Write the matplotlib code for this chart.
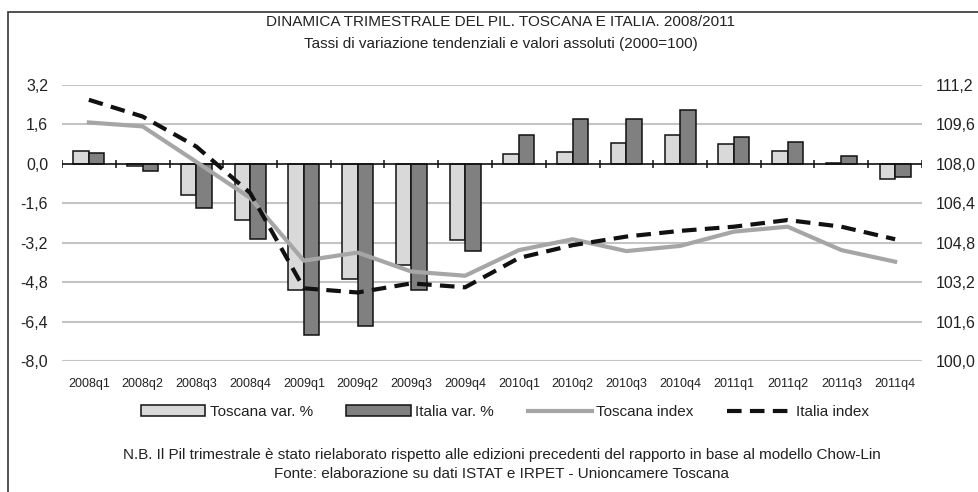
import numpy as np
import matplotlib.pyplot as plt
from matplotlib.patches import Rectangle, Patch
from matplotlib.lines import Line2D

plt.rcParams['font.family'] = ['Liberation Sans', 'DejaVu Sans']

quarters = ["2008q1", "2008q2", "2008q3", "2008q4", "2009q1", "2009q2", "2009q3", "2009q4",
            "2010q1", "2010q2", "2010q3", "2010q4", "2011q1", "2011q2", "2011q3", "2011q4"]
toscana_var = [0.53, -0.10, -1.26, -2.28, -5.12, -4.69, -4.10, -3.09,
               0.41, 0.49, 0.84, 1.17, 0.79, 0.54, 0.03, -0.61]
italia_var = [0.43, -0.27, -1.78, -3.05, -6.96, -6.56, -5.12, -3.54,
              1.17, 1.84, 1.84, 2.20, 1.11, 0.89, 0.33, -0.54]
toscana_idx = [109.68, 109.52, 108.08, 106.62, 104.07, 104.40, 103.63, 103.46,
               104.50, 104.94, 104.46, 104.67, 105.25, 105.45, 104.50, 104.03]
italia_idx = [110.60, 109.92, 108.70, 106.82, 102.95, 102.78, 103.15, 102.99,
              104.18, 104.70, 105.05, 105.28, 105.45, 105.72, 105.45, 104.94]
left_ticks = [3.2, 1.6, 0.0, -1.6, -3.2, -4.8, -6.4, -8.0]
right_ticks = [111.2, 109.6, 108.0, 106.4, 104.8, 103.2, 101.6, 100.0]

fig = plt.figure(figsize=(9.79, 4.92), dpi=100)
ax = fig.add_axes([62/979, 1-361/492, 860/979, 276/492])
x = np.arange(len(quarters))
w = 0.29

for t in left_ticks:
    if t != 0:
        ax.axhline(t, color="#c4c4c4", lw=1.5, zorder=0)
ax.bar(x - w/2, toscana_var, w, color="#d9d9d9", edgecolor="#111111", lw=1.1, zorder=2)
ax.bar(x + w/2, italia_var, w, color="#808080", edgecolor="#111111", lw=1.1, zorder=2)
ax.axhline(0, color="#111111", lw=1.2, zorder=3)
ax.vlines(np.arange(len(quarters) + 1) - 0.5, -0.16, 0.16, color="#111111", lw=1.1, zorder=3)

ax.set_xlim(-0.5, len(quarters) - 0.5)
ax.set_ylim(-8.0, 3.2)
ax.set_yticks(left_ticks)
ax.set_yticklabels([f"{t:.1f}".replace(".", ",") for t in left_ticks], fontsize=11.5)
ax.set_xticks(x)
ax.set_xticklabels(quarters, fontsize=9)
ax.tick_params(axis="both", length=0, colors="#222222")
ax.tick_params(axis="y", pad=10)
ax.tick_params(axis="x", pad=12)
for s in ax.spines.values():
    s.set_visible(False)

ax2 = ax.twinx()
ax2.plot(x, toscana_idx, color="#a6a6a6", lw=3, zorder=4)
ax2.plot(x, italia_idx, color="#111111", lw=3, dashes=(3.5, 2), zorder=5)
ax2.set_ylim(100.0, 111.2)
ax2.set_yticks(right_ticks)
ax2.set_yticklabels([f"{t:.1f}".replace(".", ",") for t in right_ticks], fontsize=11.5)
ax2.tick_params(axis="y", length=0, pad=10, colors="#222222")
for s in ax2.spines.values():
    s.set_visible(False)

handles = [Patch(facecolor="#d9d9d9", edgecolor="#111111", lw=1.1),
           Patch(facecolor="#808080", edgecolor="#111111", lw=1.1),
           Line2D([], [], color="#a6a6a6", lw=3),
           Line2D([], [], color="#111111", lw=3, dashes=(3.5, 2))]
labels = ["Toscana var. %", "Italia var. %", "Toscana index", "Italia index"]
leg = fig.legend(handles, labels, loc="center", bbox_to_anchor=(505/979, 1-412/492), ncol=4,
                 frameon=False, fontsize=11, handlelength=4.2, handleheight=0.7,
                 handletextpad=0.3, columnspacing=2.2)
for txt in leg.get_texts():
    txt.set_color("#222222")

fig.text(501/979, 1-22/492, "DINAMICA TRIMESTRALE DEL PIL. TOSCANA E ITALIA. 2008/2011",
         ha="center", va="center", fontsize=11, color="#222222")
fig.text(501/979, 1-44/492, "Tassi di variazione tendenziali e valori assoluti (2000=100)",
         ha="center", va="center", fontsize=11, color="#222222")
fig.text(502/979, 1-455/492, "N.B. Il Pil trimestrale è stato rielaborato rispetto alle edizioni "
         "precedenti del rapporto in base al modello Chow-Lin",
         ha="center", va="center", fontsize=11, color="#222222")
fig.text(502/979, 1-474/492, "Fonte: elaborazione su dati ISTAT e IRPET - Unioncamere Toscana",
         ha="center", va="center", fontsize=11, color="#222222")

fig.patches.append(Rectangle((8/979, -0.1), 1.1, 1.1 - 12/492, transform=fig.transFigure,
                             fill=False, ec="#333333", lw=1.2))

fig.savefig("out.png", dpi=100)
